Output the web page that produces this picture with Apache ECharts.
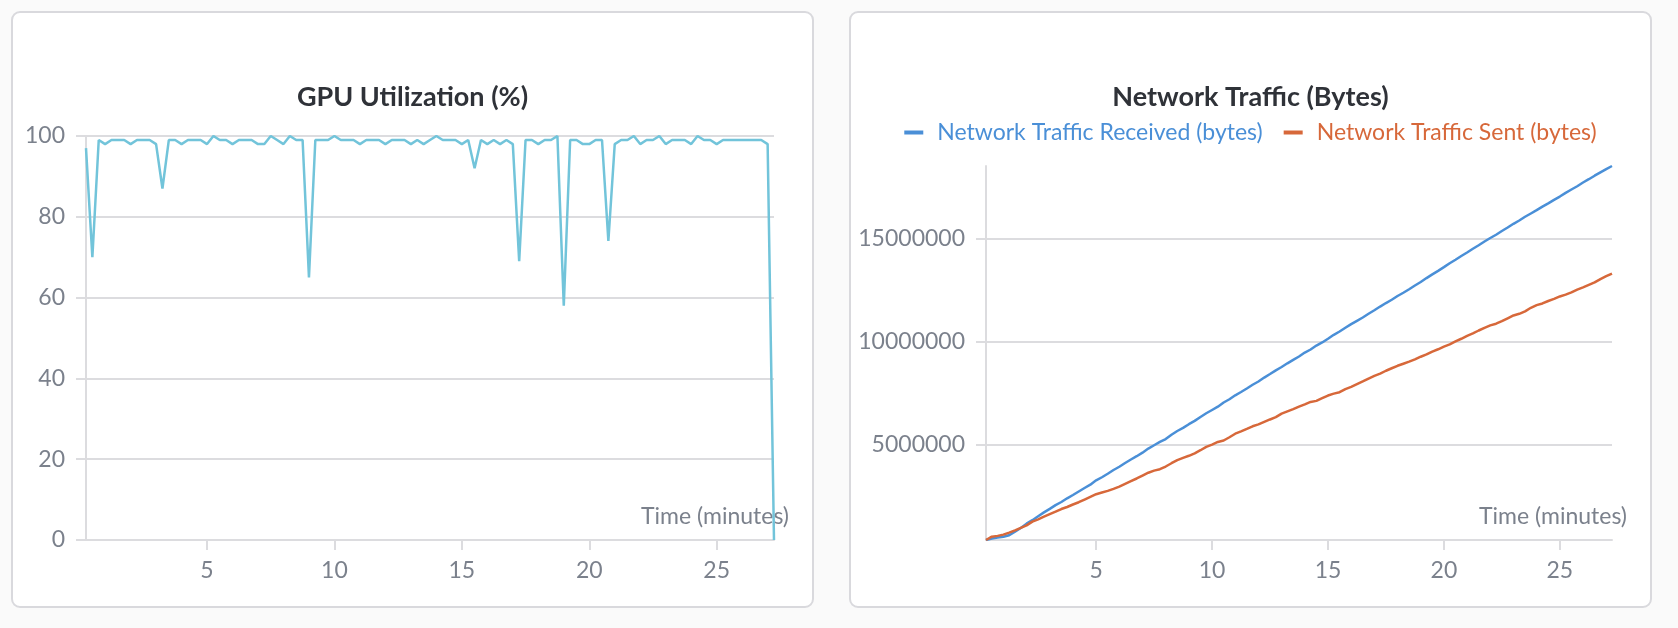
<!DOCTYPE html>
<html>
<head>
<meta charset="utf-8">
<script src="https://cdn.jsdelivr.net/npm/echarts@6/dist/echarts.min.js"></script>
<style>
    body { margin: 0; background: #fafafa; width: 1678px; height: 628px; overflow: hidden; }
    .panel { position: absolute; top: 11px; width: 803px; height: 597px; box-sizing: border-box;
             border: 2px solid #d9d9dd; border-radius: 9px; background: #fff; }
    .chart { width: 799px; height: 593px; }
</style>
</head>
<body>
    <div class="panel" style="left:11px"><div id="gpu" class="chart"></div></div>
    <div class="panel" style="left:849px"><div id="net" class="chart"></div></div>
<script type="text/javascript">
// sample times, one every 15 s
var minutes = [0.25, 0.5, 0.75, 1, 1.25, 1.5, 1.75, 2, 2.25, 2.5, 2.75, 3, 3.25, 3.5, 3.75, 4,
    4.25, 4.5, 4.75, 5, 5.25, 5.5, 5.75, 6, 6.25, 6.5, 6.75, 7, 7.25, 7.5, 7.75, 8,
    8.25, 8.5, 8.75, 9, 9.25, 9.5, 9.75, 10, 10.25, 10.5, 10.75, 11, 11.25, 11.5, 11.75, 12,
    12.25, 12.5, 12.75, 13, 13.25, 13.5, 13.75, 14, 14.25, 14.5, 14.75, 15, 15.25, 15.5, 15.75, 16,
    16.25, 16.5, 16.75, 17, 17.25, 17.5, 17.75, 18, 18.25, 18.5, 18.75, 19, 19.25, 19.5, 19.75, 20,
    20.25, 20.5, 20.75, 21, 21.25, 21.5, 21.75, 22, 22.25, 22.5, 22.75, 23, 23.25, 23.5, 23.75, 24,
    24.25, 24.5, 24.75, 25, 25.25, 25.5, 25.75, 26, 26.25, 26.5, 26.75, 27, 27.25];

var gpuUtil = [97, 70, 99, 98, 99, 99, 99, 98, 99, 99, 99, 98, 87, 99, 99, 98,
    99, 99, 99, 98, 100, 99, 99, 98, 99, 99, 99, 98, 98, 100, 99, 98,
    100, 99, 99, 65, 99, 99, 99, 100, 99, 99, 99, 98, 99, 99, 99, 98,
    99, 99, 99, 98, 99, 98, 99, 100, 99, 99, 99, 98, 99, 92, 99, 98,
    99, 98, 99, 98, 69, 99, 99, 98, 99, 99, 100, 58, 99, 99, 98, 98,
    99, 99, 74, 98, 99, 99, 100, 98, 99, 99, 100, 98, 99, 99, 99, 98,
    100, 99, 99, 98, 99, 99, 99, 99, 99, 99, 99, 98, 0];

var netRecv = [400000, 470000, 520000, 560000, 630000, 800000, 980000, 1190000,
    1360000, 1550000, 1740000, 1910000, 2090000, 2240000, 2420000, 2580000,
    2750000, 2920000, 3080000, 3290000, 3440000, 3610000, 3790000, 3950000,
    4130000, 4300000, 4460000, 4630000, 4830000, 4990000, 5150000, 5290000,
    5500000, 5680000, 5830000, 6010000, 6170000, 6360000, 6540000, 6700000,
    6860000, 7060000, 7220000, 7410000, 7570000, 7740000, 7920000, 8080000,
    8270000, 8440000, 8620000, 8780000, 8960000, 9130000, 9290000, 9480000,
    9630000, 9820000, 9970000, 10150000, 10340000, 10500000, 10680000, 10860000,
    11020000, 11180000, 11360000, 11530000, 11710000, 11880000, 12040000, 12220000,
    12380000, 12550000, 12730000, 12900000, 13090000, 13270000, 13440000, 13620000,
    13810000, 13980000, 14160000, 14330000, 14510000, 14680000, 14860000, 15030000,
    15190000, 15370000, 15540000, 15720000, 15880000, 16060000, 16220000, 16380000,
    16550000, 16710000, 16880000, 17040000, 17220000, 17380000, 17540000, 17720000,
    17880000, 18050000, 18210000, 18370000, 18520000];

var netSent = [400000, 560000, 600000, 660000, 760000, 870000, 990000, 1110000,
    1290000, 1400000, 1530000, 1650000, 1770000, 1900000, 2000000, 2120000,
    2230000, 2360000, 2490000, 2620000, 2700000, 2780000, 2880000, 2990000,
    3120000, 3250000, 3380000, 3520000, 3660000, 3760000, 3830000, 3960000,
    4120000, 4270000, 4380000, 4480000, 4600000, 4750000, 4910000, 5020000,
    5150000, 5220000, 5380000, 5550000, 5660000, 5780000, 5910000, 6000000,
    6120000, 6240000, 6350000, 6520000, 6630000, 6740000, 6860000, 6970000,
    7090000, 7140000, 7270000, 7400000, 7490000, 7560000, 7710000, 7820000,
    7950000, 8080000, 8220000, 8350000, 8460000, 8600000, 8720000, 8840000,
    8940000, 9040000, 9150000, 9280000, 9390000, 9530000, 9640000, 9770000,
    9880000, 10020000, 10150000, 10290000, 10410000, 10550000, 10680000, 10800000,
    10880000, 11000000, 11140000, 11280000, 11360000, 11480000, 11650000, 11780000,
    11860000, 11980000, 12080000, 12200000, 12290000, 12400000, 12530000, 12640000,
    12760000, 12880000, 13040000, 13180000, 13310000];

var timeTicks = [5, 10, 15, 20, 25];
var netTicks = [5000000, 10000000, 15000000];

var font = 'Lato';
var labelColor = '#7b818c';
var gridGray = '#dcdcdf';
var labelSize = 23;

function pairs(ys) {
    return minutes.map(function (t, i) { return [t, ys[i]]; });
}

function timeAxis() {
    return {
        type: 'value',
        min: minutes[0],
        max: minutes[minutes.length - 1],
        name: 'Time (minutes)',
        nameLocation: 'end',
        nameGap: 15,
        nameTextStyle: { color: labelColor, fontSize: labelSize, fontFamily: font,
                         align: 'right', verticalAlign: 'bottom', padding: [0, 0, 12, 0] },
        axisLine: { lineStyle: { color: gridGray, width: 2 } },
        axisTick: { show: true, length: 10, customValues: timeTicks, lineStyle: { color: gridGray, width: 2 } },
        axisLabel: { customValues: timeTicks, margin: 19, color: labelColor, fontSize: labelSize, fontFamily: font },
        splitLine: { show: false }
    };
}

function valueAxisStyle(ax) {
    ax.type = 'value';
    ax.axisLine = { show: true, lineStyle: { color: gridGray, width: 2 } };
    ax.axisTick = ax.axisTick || {};
    ax.axisTick.show = true;
    ax.axisTick.length = 10;
    ax.axisTick.lineStyle = { color: gridGray, width: 2 };
    ax.axisLabel = ax.axisLabel || {};
    ax.axisLabel.margin = 21;
    ax.axisLabel.color = labelColor;
    ax.axisLabel.fontSize = labelSize;
    ax.axisLabel.fontFamily = font;
    ax.axisLabel.formatter = function (v) { return String(v); };
    ax.splitLine = { lineStyle: { color: gridGray, width: 2 } };
    return ax;
}

var gpuChart = echarts.init(document.getElementById('gpu'));
gpuChart.setOption({
    animation: false,
    textStyle: { fontFamily: font },
    title: {
        text: 'GPU Utilization (%)', left: 'center', top: 66,
        textStyle: { fontSize: 27, fontWeight: 'bold', color: '#2f3238', fontFamily: font }
    },
    grid: { left: 73, right: 38, top: 123, bottom: 66 },
    xAxis: timeAxis(),
    yAxis: valueAxisStyle({ min: 0, max: 100, interval: 20 }),
    series: [{
        type: 'line', data: pairs(gpuUtil), showSymbol: false,
        lineStyle: { color: '#72c4da', width: 2.5 }, itemStyle: { color: '#72c4da' }
    }]
});

var netChart = echarts.init(document.getElementById('net'));
netChart.setOption({
    animation: false,
    textStyle: { fontFamily: font },
    title: {
        text: 'Network Traffic (Bytes)', left: 'center', top: 66,
        textStyle: { fontSize: 27, fontWeight: 'bold', color: '#2f3238', fontFamily: font }
    },
    legend: {
        top: 103, left: 'center', icon: 'rect', itemWidth: 19, itemHeight: 4, itemGap: 21,
        textStyle: { fontSize: labelSize, fontFamily: font, padding: [0, 0, 0, 9] },
        data: [
            { name: 'Network Traffic Received (bytes)', textStyle: { color: '#4a8fd7' } },
            { name: 'Network Traffic Sent (bytes)', textStyle: { color: '#d7683a' } }
        ]
    },
    grid: { left: 135, right: 38, top: 153, bottom: 66 },
    xAxis: timeAxis(),
    yAxis: valueAxisStyle({
        min: 'dataMin', max: 'dataMax',
        axisTick: { customValues: netTicks },
        axisLabel: { customValues: netTicks }
    }),
    series: [{
        name: 'Network Traffic Received (bytes)', type: 'line', data: pairs(netRecv), showSymbol: false,
        lineStyle: { color: '#4a8fd7', width: 2.5 }, itemStyle: { color: '#4a8fd7' }
    }, {
        name: 'Network Traffic Sent (bytes)', type: 'line', data: pairs(netSent), showSymbol: false,
        lineStyle: { color: '#d7683a', width: 2.5 }, itemStyle: { color: '#d7683a' }
    }]
});
</script>
</body>
</html>
